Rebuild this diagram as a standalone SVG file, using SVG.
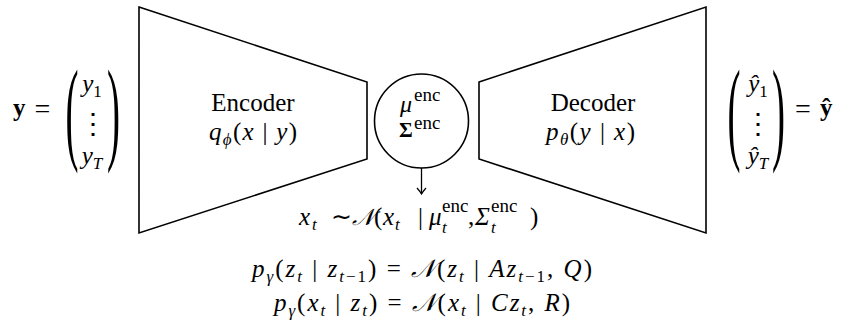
<svg xmlns="http://www.w3.org/2000/svg" width="843" height="324" viewBox="0 0 843 324">
<defs>
<marker id="arr" viewBox="-8 -6 10 12" markerWidth="10" markerHeight="12" refX="0" refY="0" orient="auto" markerUnits="userSpaceOnUse">
<path d="M-6,-4.5 Q-2,-1 0,0 Q-2,1 -6,4.5" fill="none" stroke="#000" stroke-width="1.2"/>
</marker>
</defs>
<rect width="843" height="324" fill="#fff"/>

<g id="input-vector" font-family="Liberation Serif" font-size="25">
<text font-weight="bold" x="13" y="116">y</text>
<text x="42.5" y="118" font-size="28" text-anchor="middle">=</text>
<text font-size="115" transform="translate(72,149) scale(0.34,1)" text-anchor="middle">(</text>
<text x="92" y="92" text-anchor="middle"><tspan font-style="italic">y</tspan><tspan font-size="17" dy="5">1</tspan></text>
<text font-family="DejaVu Serif" font-size="28" x="93" y="133" text-anchor="middle">⋮</text>
<text x="92" y="164" text-anchor="middle"><tspan font-style="italic">y</tspan><tspan font-size="17" font-style="italic" dy="5">T</tspan></text>
<text font-size="115" transform="translate(113.5,149) scale(0.34,1)" text-anchor="middle">)</text>
</g>

<g id="encoder" font-family="Liberation Serif" font-size="25">
<polygon fill="none" stroke="#000" stroke-width="1.6" points="139,7 367,82 367,159 139,233"/>
<text x="253" y="111" text-anchor="middle">Encoder</text>
<text x="253" y="140" text-anchor="middle" textLength="88" lengthAdjust="spacing"><tspan font-style="italic">q</tspan><tspan font-size="17" font-style="italic" dy="5">ϕ</tspan><tspan dy="-5">(</tspan><tspan font-style="italic">x</tspan> | <tspan font-style="italic">y</tspan>)</text>
</g>

<g id="latent" font-family="Liberation Serif" font-size="25">
<circle fill="none" stroke="#000" stroke-width="1.6" cx="421.5" cy="121" r="47"/>
<text><tspan font-style="italic" x="400" y="112" font-size="24">μ</tspan><tspan font-size="19" x="414" y="101">enc</tspan></text>
<text><tspan font-weight="bold" x="399" y="137" font-size="21">Σ</tspan><tspan font-size="19" x="414" y="129">enc</tspan></text>
</g>

<g id="decoder" font-family="Liberation Serif" font-size="25">
<polygon fill="none" stroke="#000" stroke-width="1.6" points="479,82 706,7 706,233 479,159"/>
<text x="593" y="111" text-anchor="middle">Decoder</text>
<text x="590.5" y="140" text-anchor="middle" textLength="89" lengthAdjust="spacing"><tspan font-style="italic">p</tspan><tspan font-size="17" font-style="italic" dy="5">θ</tspan><tspan dy="-5">(</tspan><tspan font-style="italic">y</tspan> | <tspan font-style="italic">x</tspan>)</text>
</g>

<g id="output-vector" font-family="Liberation Serif" font-size="25">
<text font-size="115" transform="translate(734,149) scale(0.34,1)" text-anchor="middle">(</text>
<text x="758" y="92" text-anchor="middle"><tspan font-style="italic">ŷ</tspan><tspan font-size="17" dy="5">1</tspan></text>
<text font-family="DejaVu Serif" font-size="28" x="758" y="133" text-anchor="middle">⋮</text>
<text x="758" y="164" text-anchor="middle"><tspan font-style="italic">ŷ</tspan><tspan font-size="17" font-style="italic" dy="5">T</tspan></text>
<text font-size="115" transform="translate(778.5,149) scale(0.34,1)" text-anchor="middle">)</text>
<text x="803" y="118" font-size="28" text-anchor="middle">=</text>
<text font-weight="bold" x="820" y="116">ŷ</text>
</g>

<g id="connectors">
<line fill="none" stroke="#000" stroke-width="1.3" x1="421.5" y1="168" x2="421.5" y2="194" marker-end="url(#arr)"/>
</g>

<g id="sample-label" font-family="Liberation Serif" font-size="25">
<text><tspan font-style="italic" x="299" y="225">x</tspan><tspan font-size="17" font-style="italic" x="312" y="230">t</tspan><tspan x="331" y="225">∼</tspan><tspan font-style="italic" x="352" y="225" font-size="23">𝒩</tspan><tspan x="374" y="225">(</tspan><tspan font-style="italic" x="383" y="225">x</tspan><tspan font-size="17" font-style="italic" x="395" y="230">t</tspan><tspan x="418" y="225">|</tspan><tspan font-style="italic" x="429" y="225">μ</tspan><tspan font-size="19" x="442" y="212">enc</tspan><tspan font-size="17" font-style="italic" x="442" y="233">t</tspan><tspan x="468" y="225">,</tspan><tspan font-style="italic" x="475" y="225">Σ</tspan><tspan font-size="19" x="491" y="212">enc</tspan><tspan font-size="17" font-style="italic" x="491" y="233">t</tspan><tspan x="530" y="225">)</tspan></text>
</g>

<g id="dynamics" font-family="Liberation Serif" font-size="25">
<text x="422" y="277" text-anchor="middle" textLength="340" lengthAdjust="spacing"><tspan font-style="italic">p</tspan><tspan font-size="17" font-style="italic" dy="5">γ</tspan><tspan dy="-5">(</tspan><tspan font-style="italic">z</tspan><tspan font-size="17" font-style="italic" dy="5">t</tspan><tspan dy="-5"> | </tspan><tspan font-style="italic">z</tspan><tspan font-size="17" dy="5"><tspan font-style="italic">t</tspan>−1</tspan><tspan dy="-5">) = </tspan><tspan font-style="italic">𝒩</tspan>(<tspan font-style="italic">z</tspan><tspan font-size="17" font-style="italic" dy="5">t</tspan><tspan dy="-5"> | </tspan><tspan font-style="italic">Az</tspan><tspan font-size="17" dy="5"><tspan font-style="italic">t</tspan>−1</tspan><tspan dy="-5">, </tspan><tspan font-style="italic">Q</tspan>)</text>
<text x="422" y="311" text-anchor="middle" textLength="296" lengthAdjust="spacing"><tspan font-style="italic">p</tspan><tspan font-size="17" font-style="italic" dy="5">γ</tspan><tspan dy="-5">(</tspan><tspan font-style="italic">x</tspan><tspan font-size="17" font-style="italic" dy="5">t</tspan><tspan dy="-5"> | </tspan><tspan font-style="italic">z</tspan><tspan font-size="17" font-style="italic" dy="5">t</tspan><tspan dy="-5">) = </tspan><tspan font-style="italic">𝒩</tspan>(<tspan font-style="italic">x</tspan><tspan font-size="17" font-style="italic" dy="5">t</tspan><tspan dy="-5"> | </tspan><tspan font-style="italic">Cz</tspan><tspan font-size="17" font-style="italic" dy="5">t</tspan><tspan dy="-5">, </tspan><tspan font-style="italic">R</tspan>)</text>
</g>
</svg>
